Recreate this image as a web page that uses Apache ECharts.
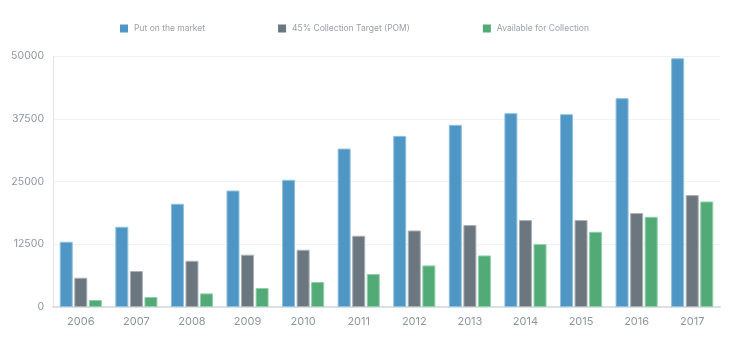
<!DOCTYPE html>
<html>
<head>
<meta charset="utf-8">
<script src="https://cdn.jsdelivr.net/npm/echarts@6/dist/echarts.min.js"></script>
<style>html,body{margin:0;padding:0;background:#fff}#c{width:737px;height:361px}</style>
</head>
<body>
<div id="c"></div>
<script>
const years = ['2006','2007','2008','2009','2010','2011','2012','2013','2014','2015','2016','2017'];
const putOnMarket = [13000, 15980, 20560, 23200, 25330, 31560, 34090, 36280, 38610, 38410, 41590, 49550];
const collectionTarget = [5830, 7160, 9210, 10410, 11400, 14190, 15240, 16320, 17310, 17310, 18710, 22290];
const availableForCollection = [1390, 1990, 2710, 3780, 4975, 6570, 8280, 10270, 12540, 14990, 17970, 21020];
const yTicks = [0, 12500, 25000, 37500, 50000];

const chart = echarts.init(document.getElementById('c'), null, {renderer: 'canvas'});
const font = 'Inter, "Noto Sans", sans-serif';
function bar(name, data, color, border) {
  return {
    name, type: 'bar', data, barWidth: 13, barGap: '12%',
    itemStyle: {color, borderColor: border, borderWidth: 1},
    emphasis: {disabled: true}
  };
}
chart.setOption({
  animation: false,
  textStyle: {fontFamily: font},
  legend: {
    top: 19, left: 115, itemGap: 73, itemWidth: 8, itemHeight: 8,
    icon: 'rect',
    itemStyle: {borderWidth: 0},
    textStyle: {color: '#9aa1a9', fontSize: 8.5, fontFamily: font, padding: [0, 0, 0, 1]},
    data: ['Put on the market', '45% Collection Target (POM)', 'Available for Collection']
  },
  grid: {left: 53, right: 17, top: 56, bottom: 54},
  xAxis: {
    type: 'category', data: years,
    axisLine: {lineStyle: {color: '#dcdfe3', width: 2}},
    axisTick: {show: false},
    axisLabel: {color: '#8f969e', fontSize: 11, margin: 9, fontFamily: font}
  },
  yAxis: {
    type: 'value', min: yTicks[0], max: yTicks[yTicks.length - 1], interval: 12500,
    axisLine: {show: true, lineStyle: {color: '#e3e6e9', width: 1}},
    axisTick: {show: false},
    splitLine: {lineStyle: {color: '#f0f1f3'}},
    axisLabel: {color: '#8f969e', fontSize: 10.5, margin: 9, fontFamily: font, formatter: v => String(v)}
  },
  series: [
    bar('Put on the market', putOnMarket, '#5096c4', '#8ec0df'),
    bar('45% Collection Target (POM)', collectionTarget, '#6c767e', '#a9b0b6'),
    bar('Available for Collection', availableForCollection, '#52aa77', '#8fd0a9')
  ]
});
</script>
</body>
</html>
